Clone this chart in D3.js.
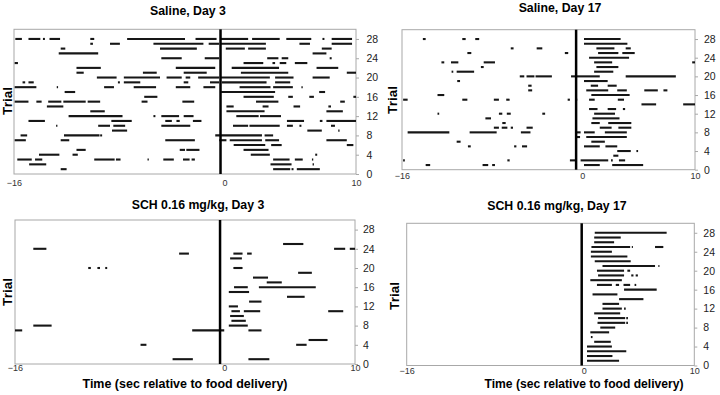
<!DOCTYPE html>
<html>
<head>
<meta charset="utf-8">
<script src="https://cdn.jsdelivr.net/npm/d3@7"></script>
<style>
  body { margin: 0; background: #fff; }
  svg { display: block; font-family: Arial, "Liberation Sans", sans-serif; }
</style>
</head>
<body>
<svg id="chart" width="720" height="395"></svg>
<script>
// texts and ticks
const panelTitles = ['Saline, Day 3', 'Saline, Day 17', 'SCH 0.16 mg/kg, Day 3', 'SCH 0.16 mg/kg, Day 17'];
const xTitle = 'Time (sec relative to food delivery)';
const yTitle = 'Trial';
const xTicks = [-16, 0, 10];
const yTicks = [0, 4, 8, 12, 16, 20, 24, 28];
// food delivery marker (sec) per panel
const foodLine = [-0.3, -0.55, -0.32, -0.18];

// response bouts [start, end] in sec; first entry = trial 28, last = trial 1
const salineDay3 = [
  [[-15.9,-15.4],[-14.9,-14.0],[-13.8,-13.65],[-13.3,-12.5],[-10.2,-9.9],[-7.4,-3.0],[-2.2,-0.6],[-0.3,1.8],[2.1,4.2],[4.7,6.6],[7.45,7.6],[8.15,9.7]],
  [[-10.2,-10.0],[-8.7,-7.95],[-5.4,-1.6],[-1.2,-0.4],[-0.3,3.15],[5.7,6.5],[8.15,9.7]],
  [[-12.45,-12.1],[-4.9,-2.1],[0.1,1.55],[1.8,3.15],[7.4,8.15]],
  [[-12.6,-9.6],[6.7,7.75]],
  [[-4.8,-3.25],[-1.5,-0.4],[3.25,4.1],[4.35,4.85],[8.0,8.15]],
  [[-15.95,-15.7],[1.45,2.95],[3.65,3.85],[4.2,4.7],[5.35,6.3]],
  [[-11.25,-9.4],[-3.7,-0.7],[0.55,4.15],[7.0,8.65]],
  [[-11.25,-10.7],[-6.2,-5.15],[-3.1,-1.35],[1.25,4.85],[9.3,10]],
  [[-9.7,-8.2],[-7.65,-4.9],[-4.4,-3.25],[-2.95,-2.6],[-2.0,-0.4],[-0.35,3.45],[3.85,5.25],[6.7,8.0]],
  [[-15.35,-15.15],[-14.9,-14.5],[-8.1,-7.95],[-7.65,-6.4],[-3.1,-2.75],[-1.1,-0.4],[-0.2,3.2],[3.85,5.0]],
  [[-15.95,-14.3],[-12.75,-12.65],[-9.15,-8.4],[-6.9,-5.2],[-3.7,-2.6],[-1.6,-0.7],[1.15,3.5],[3.7,5.2],[5.85,5.95]],
  [[-12.15,-11.35],[-0.25,3.85],[7.2,7.65]],
  [[-6.1,-5.1],[1.45,3.75],[4.85,5.2],[6.45,6.8],[9.8,10]],
  [[-15.95,-14.9],[-14.3,-13.9],[-13.4,-12.4],[-12.25,-10.55],[-10.4,-9.45],[-6.3,-5.85],[-3.2,-2.3],[2.4,4.1],[8.8,9.15]],
  [[-13.5,-12.25],[0.15,0.7],[2.9,3.35],[5.25,5.75],[7.9,8.1]],
  [[-10.2,-9.1],[0.15,3.05],[7.75,9.0]],
  [[-11.85,-7.75],[-5.4,-5.25],[-4.8,-3.45],[-3.1,-2.35],[0.9,2.6],[2.7,4.3]],
  [[-14.9,-13.65],[-8.6,-7.05],[-4.5,-4.0],[-3.65,-3.4],[-2.4,-1.75],[4.75,6.05],[7.25,7.45],[7.75,10]],
  [[-12.8,-12.7],[-9.6,-8.7],[-8.45,-7.55],[-4.8,-2.6],[0.65,1.8],[1.9,4.2],[4.75,5.2],[5.7,5.85],[8.1,8.4]],
  [[-8.55,-7.4],[6.3,7.4],[8.65,8.75]],
  [[-15.5,-15.0],[-12.2,-9.5],[-9.45,-9.3],[-0.7,2.85],[3.05,3.7]],
  [[-15.95,-15.1],[-12.45,-11.8],[-4.5,-2.25],[-0.4,0.15],[0.4,2.85],[3.1,4.15],[7.75,9.3]],
  [[0.7,3.1],[3.55,4.35],[9.3,9.8]],
  [[-11.25,-10.55],[-3.4,-3.0],[-2.9,-1.9],[1.45,3.35]],
  [[-14.1,-12.55],[-11.55,-11.15],[2.0,3.45],[6.9,7.05]],
  [[-15.75,-14.65],[-14.4,-13.85],[-9.9,-8.35],[-8.25,-7.9],[-5.85,-5.75],[-4.65,-3.85],[-3.15,-2.65],[-2.5,-2.25],[3.7,4.95],[5.35,5.95],[6.65,6.75]],
  [[-14.85,-13.55],[3.5,5.1],[6.7,6.8]],
  [[-12.45,-12.0],[3.7,5.0],[5.1,5.25],[5.5,7.25]]
];

const salineDay17 = [
  [[-14.15,-13.9],[-10.65,-10.35],[-9.5,-9.15],[0.15,3.4]],
  [[0.15,4.0]],
  [[-6.35,-6.1],[-4.05,-3.55],[1.25,2.85],[3.85,4.3]],
  [[-10.2,-9.85],[-1.55,-1.25],[1.4,3.2],[3.55,4.65]],
  [[0.6,4.15]],
  [[-12.5,-12.25],[-11.65,-11.0],[-8.75,-7.75],[1.05,2.65],[9.75,10]],
  [[-9.0,-8.75],[1.25,3.2]],
  [[-11.6,-11.45],[-11.15,-9.6],[1.05,2.75]],
  [[-5.55,-5.15],[-4.95,-4.25],[-4.15,-2.7],[-1.0,1.55],[3.85,8.3]],
  [[-11.1,-10.85],[0.15,2.25]],
  [[-4.8,-4.5],[0.75,1.4],[2.25,3.05]],
  [[-4.8,-4.45],[0.35,2.3],[3.1,3.95],[5.5,6.7],[7.2,7.55]],
  [[-12.85,-12.25],[0.8,4.2]],
  [[-15.9,-15.5],[-10.65,-10.2],[-7.85,-7.4],[-6.75,-6.45],[-1.3,-1.1],[-0.65,-0.45],[0.6,1.1],[3.15,3.7]],
  [[5.25,6.55],[8.95,10]],
  [[0.6,1.35],[2.25,3.0],[3.6,3.8]],
  [[-12.85,-12.7],[-7.4,-7.1],[-6.7,-6.35],[-3.55,-3.3],[1.05,2.9]],
  [[-8.6,-8.1],[0.9,3.3]],
  [[-7.1,-6.8],[0.8,1.55],[2.3,4.35]],
  [[-7.85,-7.4],[-7.15,-6.65],[-6.35,-6.15],[-4.95,-4.4],[1.55,2.6],[3.2,4.35]],
  [[-15.5,-11.8],[-10.0,-7.6],[-5.45,-4.6],[-0.5,-0.15],[0.15,1.1],[2.0,3.95]],
  [[-0.5,-0.2],[0.35,3.95]],
  [[-11.15,-10.8],[0.8,2.0]],
  [[-10.15,-9.9],[-6.05,-5.85],[-5.35,-4.9],[0.15,1.55],[2.05,3.1]],
  [[3.1,4.3],[4.8,4.95]],
  [[2.75,3.2]],
  [[-15.9,-15.75],[-6.65,-6.45],[-1.1,-0.6],[-0.15,2.3],[2.55,2.7],[3.25,3.8]],
  [[-13.9,-13.5],[-8.85,-8.35],[-8.0,-7.75],[0.15,1.55],[2.65,5.4]]
];

const schDay3 = [
  [], [], [],
  [[4.5,6.05]],
  [[-14.6,-13.6],[8.4,9.25],[9.6,10]],
  [[-3.45,-2.7],[0.7,1.4],[1.75,2.1]],
  [[0.45,1.35]],
  [],
  [[-10.4,-10.2],[-9.7,-9.5],[-9.1,-8.95],[0.7,1.4]],
  [[5.65,6.7]],
  [[2.2,3.35]],
  [[3.25,4.4]],
  [[0.75,1.8],[2.65,7.0]],
  [[0.35,1.9]],
  [[4.8,6.15]],
  [[1.9,2.85]],
  [[0.35,1.05]],
  [[0.55,1.2],[1.5,2.75],[7.95,9.1]],
  [[0.45,1.5]],
  [[0.55,1.65]],
  [[-14.6,-13.2],[0.35,1.8]],
  [[-16,-15.45],[-2.45,0.0],[1.85,2.85]],
  [],
  [[6.45,7.9]],
  [[-6.4,-5.95],[5.5,6.3]],
  [], [],
  [[-3.95,-2.4],[1.85,3.45]]
];

const schDay17 = [
  [[1.0,7.5]],
  [[0.95,3.35]],
  [[0.95,2.75]],
  [[0.7,4.2],[4.35,4.45],[6.45,7.2]],
  [[0.65,2.55]],
  [[0.65,3.95]],
  [[1.0,4.25]],
  [[1.7,6.45],[6.75,6.85]],
  [[1.2,3.65],[3.95,4.2]],
  [[1.3,3.65],[4.3,4.5],[4.7,4.9]],
  [[0.6,3.45]],
  [[1.2,2.55],[2.9,3.2],[3.6,4.2],[4.6,4.75]],
  [[3.65,6.6]],
  [[0.8,3.05]],
  [[3.2,5.4]],
  [[1.7,3.2]],
  [[1.7,3.45],[3.65,3.8]],
  [[0.95,3.3]],
  [[1.3,3.75],[3.85,4.0]],
  [[1.25,3.75],[3.85,4.0]],
  [[1.5,2.85]],
  [[0.6,2.3]],
  [[0.65,0.8]],
  [[0.95,2.45]],
  [[0.3,2.55]],
  [[0.3,3.85]],
  [[0.3,2.6]],
  [[0.3,3.2]]
];

// layout per panel
const panels = [
  { data: salineDay3, box: [14, 356, 29.3, 174], titleAt: [188, 15], xPad: 5.5, yLab: 10.5, yTitleAt: [12, 101], xTitleAt: null },
  { data: salineDay17, box: [402, 695, 29.7, 169.7], titleAt: [560, 11.5], xPad: 2.5, yLab: 9, yTitleAt: [397, 100], xTitleAt: null },
  { data: schDay3, box: [15, 355, 220, 364], titleAt: [198, 209], xPad: 0.8, yLab: 8, yTitleAt: [12, 292], xTitleAt: [185, 387.5], xTitleLen: 205 },
  { data: schDay17, box: [406.7, 694.3, 223.3, 365.5], titleAt: [557, 210], xPad: 2.2, yLab: 9, yTitleAt: [399, 296], xTitleAt: [584, 387.5], xTitleLen: 199 }
];

const svg = d3.select('#chart');

panels.forEach(function (p, i) {
  const [x0, x1, y0, y1] = p.box;
  const x = d3.scaleLinear().domain([-16, 10]).range([x0, x1]);
  const y = d3.scaleLinear().domain([0, 30]).range([y1, y0]);
  const g = svg.append('g');

  g.append('rect')
    .attr('x', x0).attr('y', y0)
    .attr('width', x1 - x0).attr('height', y1 - y0)
    .attr('fill', 'none')
    .attr('stroke', '#a8a8a8')
    .attr('stroke-width', 1);

  // bouts
  const bouts = p.data.flatMap((row, k) => row.map(([s, e]) => ({ trial: 28 - k, s, e })));
  g.append('g')
    .selectAll('line')
    .data(bouts)
    .join('line')
    .attr('x1', d => x(d.s))
    .attr('x2', d => x(d.e))
    .attr('y1', d => y(d.trial))
    .attr('y2', d => y(d.trial))
    .attr('stroke', '#161616')
    .attr('stroke-width', 2.1);

  // food delivery line
  g.append('line')
    .attr('x1', x(foodLine[i])).attr('x2', x(foodLine[i]))
    .attr('y1', y0).attr('y2', y1)
    .attr('stroke', '#000')
    .attr('stroke-width', 2.5);

  // right axis
  const ya = g.append('g')
    .attr('transform', `translate(${x1},0)`)
    .call(d3.axisRight(y).tickValues(yTicks).tickSize(3).tickPadding(p.yLab - 3));
  ya.select('.domain').remove();
  ya.selectAll('.tick line').attr('stroke', '#a8a8a8');
  ya.selectAll('.tick text')
    .attr('font-size', 10.5)
    .attr('font-family', 'Arial, "Liberation Sans", sans-serif')
    .attr('fill', '#222');

  // bottom axis
  const xa = g.append('g')
    .attr('transform', `translate(0,${y1})`)
    .call(d3.axisBottom(x).tickValues(xTicks).tickSize(0).tickPadding(p.xPad));
  xa.select('.domain').remove();
  xa.selectAll('.tick text')
    .attr('font-size', 9)
    .attr('font-family', 'Arial, "Liberation Sans", sans-serif')
    .attr('fill', '#333');

  g.append('text')
    .attr('x', p.titleAt[0]).attr('y', p.titleAt[1])
    .attr('text-anchor', 'middle')
    .attr('font-size', 12.3)
    .attr('font-weight', 'bold')
    .text(panelTitles[i]);

  g.append('text')
    .attr('transform', `translate(${p.yTitleAt[0]},${p.yTitleAt[1]}) rotate(-90)`)
    .attr('text-anchor', 'middle')
    .attr('font-size', 13.5)
    .attr('font-weight', 'bold')
    .text(yTitle);

  if (p.xTitleAt) {
    g.append('text')
      .attr('x', p.xTitleAt[0]).attr('y', p.xTitleAt[1])
      .attr('text-anchor', 'middle')
      .attr('font-size', 13.5)
      .attr('font-weight', 'bold')
      .attr('textLength', p.xTitleLen)
      .attr('lengthAdjust', 'spacingAndGlyphs')
      .text(xTitle);
  }
});
</script>
</body>
</html>
